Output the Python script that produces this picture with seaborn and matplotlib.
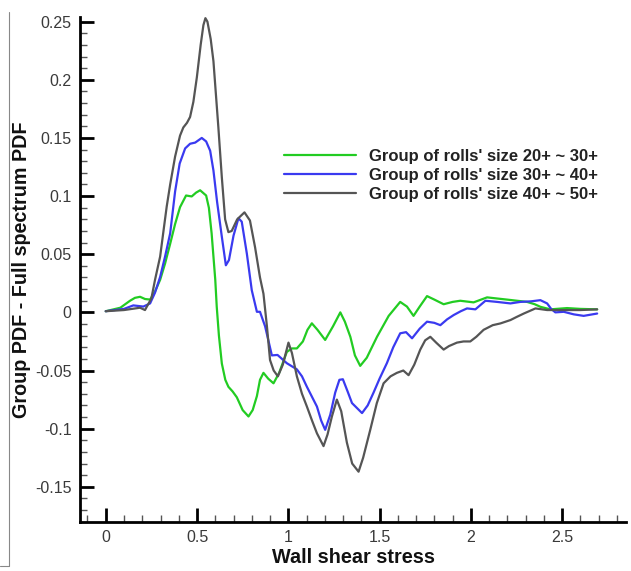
import matplotlib
matplotlib.use("Agg")
import matplotlib.pyplot as plt
from matplotlib.lines import Line2D
from matplotlib.ticker import MultipleLocator, FuncFormatter
import seaborn as sns
import pandas as pd

# Series labels and colours
labels = [
    "Group of rolls' size 20+ ~ 30+",
    "Group of rolls' size 30+ ~ 40+",
    "Group of rolls' size 40+ ~ 50+",
]
colors = ["#22cc22", "#3a3af0", "#555555"]

# Group 20+ ~ 30+
x_g1 = [0, 0.08, 0.133, 0.16, 0.188, 0.215, 0.243, 0.27, 0.298, 0.325, 0.353, 0.38,
        0.407, 0.44, 0.471, 0.495, 0.517, 0.55, 0.565, 0.58, 0.59, 0.6, 0.608, 0.62,
        0.636, 0.655, 0.672, 0.695, 0.718, 0.75, 0.782, 0.805, 0.828, 0.845, 0.864,
        0.89, 0.919, 0.95, 0.992, 1.02, 1.047, 1.08, 1.105, 1.129, 1.16, 1.202, 1.245,
        1.285, 1.31, 1.34, 1.365, 1.394, 1.43, 1.486, 1.55, 1.613, 1.65, 1.686, 1.72,
        1.76, 1.8, 1.851, 1.9, 1.942, 2.015, 2.089, 2.14, 2.198, 2.308, 2.35, 2.381,
        2.436, 2.527, 2.6, 2.692]
y_g1 = [0.001, 0.004, 0.010, 0.0125, 0.0134, 0.0115, 0.011, 0.018, 0.028, 0.042, 0.059,
        0.076, 0.0905, 0.1005, 0.0997, 0.103, 0.105, 0.1005, 0.09, 0.068, 0.048, 0.028,
        0.005, -0.02, -0.044, -0.058, -0.064, -0.068, -0.073, -0.084, -0.0895, -0.084,
        -0.072, -0.058, -0.052, -0.057, -0.061, -0.052, -0.034, -0.031, -0.031, -0.025,
        -0.015, -0.0094, -0.015, -0.0237, -0.012, 0.0, -0.008, -0.021, -0.037, -0.046,
        -0.039, -0.021, -0.003, 0.009, 0.005, -0.003, 0.005, 0.014, 0.011, 0.007, 0.009,
        0.010, 0.0086, 0.0129, 0.012, 0.011, 0.009, 0.007, 0.0048, 0.0026, 0.0037, 0.003,
        0.0026]

# Group 30+ ~ 40+
x_g2 = [0, 0.1, 0.151, 0.206, 0.243, 0.27, 0.298, 0.325, 0.353, 0.38, 0.405, 0.435,
        0.462, 0.49, 0.526, 0.55, 0.572, 0.59, 0.61, 0.636, 0.658, 0.675, 0.7, 0.727,
        0.745, 0.773, 0.8, 0.828, 0.845, 0.873, 0.91, 0.941, 0.992, 1.047, 1.075, 1.102,
        1.157, 1.18, 1.202, 1.23, 1.257, 1.28, 1.299, 1.325, 1.349, 1.404, 1.435, 1.467,
        1.5, 1.54, 1.575, 1.613, 1.645, 1.678, 1.72, 1.76, 1.8, 1.833, 1.87, 1.906,
        1.945, 1.979, 2.025, 2.08, 2.144, 2.217, 2.271, 2.33, 2.381, 2.418, 2.44, 2.463,
        2.509, 2.564, 2.618, 2.692]
y_g2 = [0.001, 0.003, 0.006, 0.005, 0.0077, 0.017, 0.0305, 0.048, 0.068, 0.104, 0.128,
        0.141, 0.145, 0.146, 0.15, 0.147, 0.139, 0.122, 0.095, 0.065, 0.0405, 0.045,
        0.066, 0.081, 0.078, 0.0505, 0.019, 0.0005, 0.0005, -0.012, -0.037, -0.0366,
        -0.0437, -0.049, -0.055, -0.064, -0.081, -0.093, -0.101, -0.088, -0.069, -0.058,
        -0.0575, -0.068, -0.078, -0.0866, -0.08, -0.069, -0.057, -0.0437, -0.03, -0.018,
        -0.017, -0.0223, -0.014, -0.008, -0.009, -0.011, -0.006, -0.0023, 0.001, 0.0034,
        0.0026, 0.010, 0.009, 0.0077, 0.009, 0.0095, 0.0105, 0.0077, 0.003, 0.0, 0.0005,
        -0.0017, -0.003, -0.001]

# Group 40+ ~ 50+
x_g3 = [0, 0.1, 0.188, 0.215, 0.25, 0.27, 0.298, 0.318, 0.334, 0.353, 0.38, 0.407,
        0.425, 0.445, 0.462, 0.48, 0.499, 0.52, 0.535, 0.546, 0.557, 0.575, 0.59, 0.617,
        0.636, 0.654, 0.672, 0.69, 0.72, 0.76, 0.79, 0.818, 0.845, 0.864, 0.883, 0.9,
        0.92, 0.943, 0.97, 1.001, 1.02, 1.047, 1.075, 1.102, 1.13, 1.157, 1.193, 1.215,
        1.239, 1.266, 1.29, 1.321, 1.35, 1.385, 1.41, 1.449, 1.485, 1.522, 1.56, 1.595,
        1.63, 1.659, 1.69, 1.723, 1.75, 1.778, 1.81, 1.851, 1.88, 1.924, 1.96, 1.997,
        2.03, 2.07, 2.12, 2.162, 2.217, 2.25, 2.29, 2.354, 2.418, 2.527, 2.6, 2.692]
y_g3 = [0.001, 0.002, 0.004, 0.002, 0.012, 0.028, 0.048, 0.072, 0.091, 0.11, 0.134,
        0.152, 0.159, 0.163, 0.168, 0.181, 0.202, 0.23, 0.247, 0.253, 0.25, 0.235, 0.216,
        0.159, 0.116, 0.08, 0.069, 0.07, 0.08, 0.086, 0.079, 0.056, 0.03, 0.016, -0.012,
        -0.041, -0.05, -0.055, -0.045, -0.026, -0.035, -0.055, -0.07, -0.081, -0.093,
        -0.104, -0.115, -0.105, -0.0895, -0.075, -0.085, -0.112, -0.13, -0.137, -0.125,
        -0.101, -0.078, -0.061, -0.055, -0.052, -0.05, -0.054, -0.045, -0.032, -0.024,
        -0.021, -0.026, -0.032, -0.029, -0.026, -0.025, -0.025, -0.021, -0.015, -0.011,
        -0.0095, -0.0066, -0.004, -0.001, 0.0034, 0.002, 0.002, 0.002, 0.0026]

series_x = [x_g1, x_g2, x_g3]
series_y = [y_g1, y_g2, y_g3]

sns.set_theme(style="white")
plt.rcParams["font.family"] = ["Liberation Sans", "DejaVu Sans"]

fig = plt.figure(figsize=(6.31, 5.71), dpi=100)
ax = fig.add_axes([80 / 631, 49.3 / 571, 546 / 631, 504.7 / 571])

for xs, ys, lab, col in zip(series_x, series_y, labels, colors):
    df = pd.DataFrame({"x": xs, "y": ys})
    sns.lineplot(data=df, x="x", y="y", ax=ax, color=col, label=lab,
                 linewidth=1.6, estimator=None, sort=True)

ax.set_xlim(-0.141, 2.85)
ax.set_ylim(-0.18, 0.254)

ax.xaxis.set_major_locator(MultipleLocator(0.5))
ax.xaxis.set_minor_locator(MultipleLocator(0.1))
ax.yaxis.set_major_locator(MultipleLocator(0.05))
ax.yaxis.set_minor_locator(MultipleLocator(0.01))
ax.xaxis.set_major_formatter(FuncFormatter(lambda v, p: f"{v:g}"))
ax.yaxis.set_major_formatter(FuncFormatter(
    lambda v, p: "0" if abs(v) < 1e-9 else f"{v:g}"))

ax.tick_params(axis="both", which="major", direction="in", length=10, width=2,
               color="black", labelsize=11.5, labelcolor="#3a3a3a", pad=6)
ax.tick_params(axis="both", which="minor", direction="in", length=5, width=1,
               color="#555555")
ax.tick_params(axis="x", which="both", bottom=True, top=False)
ax.tick_params(axis="y", which="both", left=True, right=False)

for side in ("top", "right"):
    ax.spines[side].set_visible(False)
for side in ("left", "bottom"):
    ax.spines[side].set_linewidth(2)
    ax.spines[side].set_color("black")

ax.set_xlabel("Wall shear stress", fontsize=14.3, fontweight="bold", color="#111111",
              labelpad=2)
ax.set_ylabel("Group PDF - Full spectrum PDF", fontsize=14.2, fontweight="bold",
              color="#111111", labelpad=3)

leg = ax.legend(loc="upper left", bbox_to_anchor=(0.374, 0.738), frameon=False,
                prop={"size": 12, "weight": "bold"}, handlelength=4.3,
                handletextpad=0.8, labelspacing=0.22, borderpad=0, borderaxespad=0)
for t in leg.get_texts():
    t.set_color("#222222")

# thin frame piece along the left edge of the figure
fig.add_artist(Line2D([9 / 631, 9 / 631], [1 - 12 / 571, 1 - 566 / 571],
                      transform=fig.transFigure, color="#888888", linewidth=0.8))
fig.add_artist(Line2D([0, 9 / 631], [1 - 566 / 571, 1 - 566 / 571],
                      transform=fig.transFigure, color="#888888", linewidth=0.8))

fig.savefig("out.png", dpi=100)
